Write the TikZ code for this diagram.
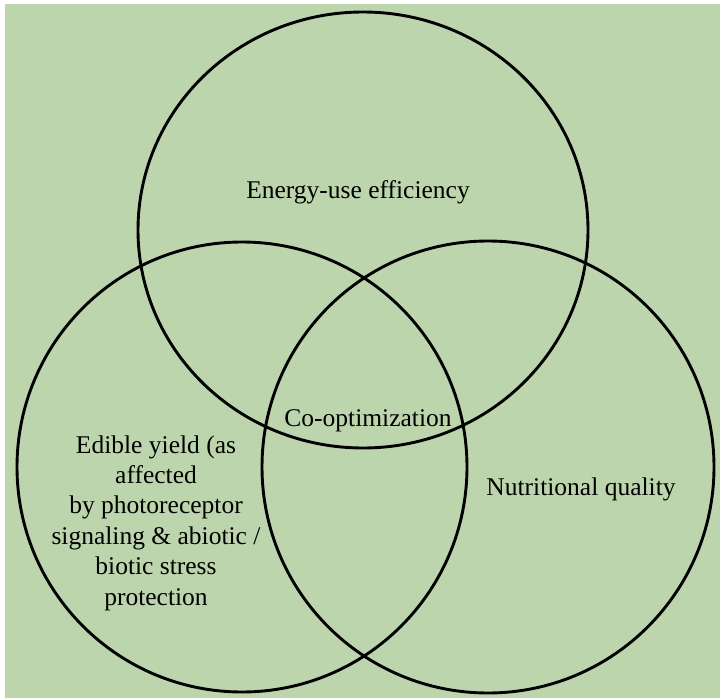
\documentclass[tikz,border=0pt]{standalone}
\usepackage{fontspec}
\setmainfont{Liberation Serif}
\definecolor{vennbg}{RGB}{189,213,173}
\tikzset{
  ring/.style={line width=2.9pt, black},
  label/.style={inner sep=0pt, font=\fontsize{25.5}{30.4}\selectfont, align=center, anchor=base}
}
\begin{document}
\begin{tikzpicture}[x=1pt, y=-1pt]
  \useasboundingbox (0,0) rectangle (720,698);
  % 背景
  \fill[vennbg] (5,4) rectangle (720,698);
  % 绘制三个圆
  \draw[ring] (363,230) ellipse [x radius=225pt, y radius=218pt];
  \draw[ring] (242,467) circle [radius=225pt];
  \draw[ring] (488,467) circle [radius=226pt];
  % 文字
  \node[label] (energy) at (358,198) {Energy-use efficiency};
  \node[label] (coopt) at (368,426) {Co-optimization};
  \node[label] (yield) at (156,605) {Edible yield (as\\affected\\by photoreceptor\\signaling \& abiotic /\\biotic stress\\protection};
  \node[label] (nutri) at (581,495) {Nutritional quality};
\end{tikzpicture}
\end{document}
